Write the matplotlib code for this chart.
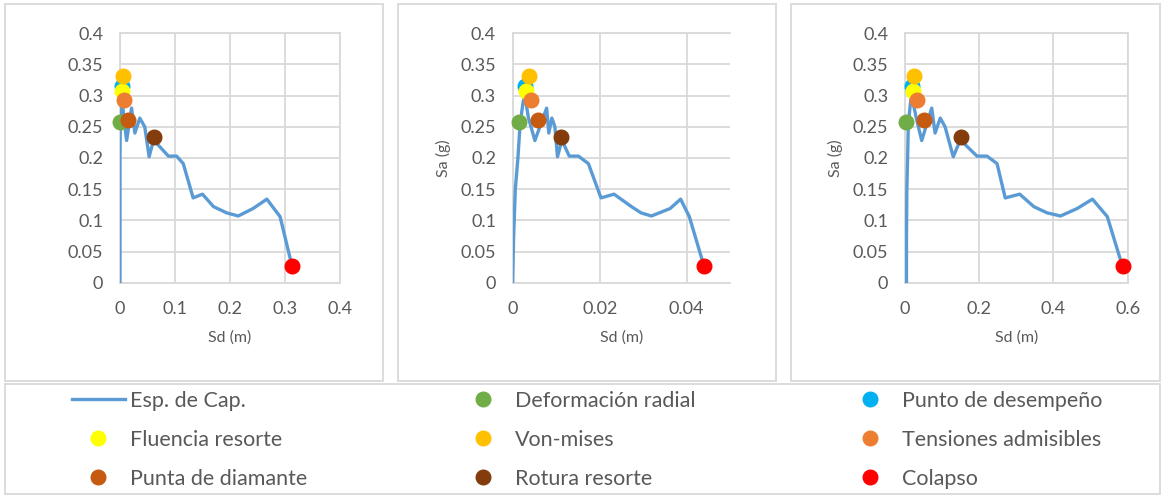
import numpy as np
import matplotlib
matplotlib.use('Agg')
import matplotlib.pyplot as plt
from matplotlib.patches import Rectangle

plt.rcParams['font.family'] = ['Lato', 'DejaVu Sans']

# capacity spectrum, Sa (g) shared by the three panels
sa = [0, 0.07, 0.15, 0.2, 0.255, 0.29, 0.30, 0.265, 0.228, 0.28, 0.24, 0.264, 0.25,
      0.202, 0.229, 0.203, 0.203, 0.191, 0.136, 0.142, 0.122, 0.112, 0.107, 0.119,
      0.134, 0.106, 0.026]
# Sd (m) for each panel
sd1 = [0, 0, 0, 0, 0.0005, 0.001, 0.003, 0.007, 0.012, 0.021, 0.027, 0.036, 0.045,
       0.053, 0.061, 0.088, 0.103, 0.115, 0.133, 0.15, 0.17, 0.194, 0.215, 0.242,
       0.267, 0.291, 0.313]
sd2 = [0, 0.0002, 0.0006, 0.0012, 0.0017, 0.0024, 0.0028, 0.0036, 0.0051, 0.0078,
       0.0083, 0.009, 0.0097, 0.0103, 0.0113, 0.013, 0.0151, 0.0174, 0.0203, 0.0233,
       0.0273, 0.0295, 0.0319, 0.0362, 0.0386, 0.0406, 0.0440]
sd3 = [0.004, 0.004, 0.005, 0.007, 0.009, 0.015, 0.018, 0.03, 0.045, 0.072, 0.081,
       0.095, 0.108, 0.13, 0.149, 0.194, 0.221, 0.248, 0.27, 0.309, 0.347, 0.383,
       0.419, 0.464, 0.505, 0.545, 0.586]

# performance points
pt_names = ['Deformación radial', 'Punto de desempeño', 'Fluencia resorte', 'Von-mises',
            'Tensiones admisibles', 'Punta de diamante', 'Rotura resorte', 'Colapso']
pt_colors = ['#70AD47', '#00B0F0', '#FFFF00', '#FFC000', '#ED7D31', '#C55A11',
             '#843C0C', '#FF0000']
pt_sa = [0.257, 0.316, 0.308, 0.332, 0.293, 0.261, 0.233, 0.026]
pt_sd1 = [0.0, 0.004, 0.003, 0.005, 0.007, 0.014, 0.062, 0.313]
pt_sd2 = [0.0015, 0.0029, 0.0031, 0.0038, 0.0042, 0.0059, 0.011, 0.044]
pt_sd3 = [0.002, 0.02, 0.0225, 0.025, 0.033, 0.051, 0.15, 0.588]

panels = [
    dict(sd=sd1, pts=pt_sd1, xmax=0.4, xticks=[0, 0.1, 0.2, 0.3, 0.4],
         xlabels=['0', '0.1', '0.2', '0.3', '0.4'], ylabel=False, rspine=True),
    dict(sd=sd2, pts=pt_sd2, xmax=0.05, xticks=[0, 0.02, 0.04],
         xlabels=['0', '0.02', '0.04'], ylabel=True, rspine=False),
    dict(sd=sd3, pts=pt_sd3, xmax=0.6, xticks=[0, 0.2, 0.4, 0.6],
         xlabels=['0', '0.2', '0.4', '0.6'], ylabel=True, rspine=True),
]
yticks = [0, 0.05, 0.1, 0.15, 0.2, 0.25, 0.3, 0.35, 0.4]
ylabels = ['0', '0.05', '0.1', '0.15', '0.2', '0.25', '0.3', '0.35', '0.4']

W, H = 1161, 495
fig = plt.figure(figsize=(W / 100, H / 100), dpi=100)
txt = '#595959'
grid = '#D9D9D9'

# outer boxes (pixel coords -> fig fraction)
boxes = [(5, 4, 383, 381), (398, 4, 776, 381), (791, 4, 1160, 381), (5, 384, 1160, 494)]
for x0, y0, x1, y1 in boxes:
    fig.add_artist(Rectangle((x0 / W, 1 - y1 / H), (x1 - x0) / W, (y1 - y0) / H,
                             transform=fig.transFigure, fill=False,
                             edgecolor=grid, lw=1.3))

lefts = [120, 512.7, 905]
widths = [220, 217.5, 222.7]
bottom = (H - 282.7) / H
height = (282.7 - 33.3) / H

handles = []
for i, p in enumerate(panels):
    ax = fig.add_axes([lefts[i] / W, bottom, widths[i] / W, height])
    l, = ax.plot(p['sd'], sa, color='#5B9BD5', lw=2.4, label='Esp. de Cap.', zorder=3)
    hs = [l]
    for k in range(len(pt_names)):
        h, = ax.plot(p['pts'][k], pt_sa[k], 'o', ms=10.5, color=pt_colors[k],
                     label=pt_names[k], zorder=4, clip_on=False)
        hs.append(h)
    if i == 0:
        handles = hs
    ax.set_xlim(0, p['xmax'])
    ax.set_ylim(0, 0.4)
    ax.set_xticks(p['xticks'])
    ax.set_xticklabels(p['xlabels'])
    ax.set_yticks(yticks)
    ax.set_yticklabels(ylabels)
    ax.grid(True, color=grid, lw=1.3)
    ax.set_axisbelow(True)
    for s in ax.spines.values():
        s.set_color(grid)
        s.set_linewidth(1.3)
    ax.spines['right'].set_visible(p['rspine'])
    ax.tick_params(length=0, labelsize=13, labelcolor=txt)
    ax.tick_params(axis='x', pad=13)
    ax.tick_params(axis='y', pad=12)
    ax.set_xlabel('Sd (m)', fontsize=11.5, color=txt, labelpad=10)
    if p['ylabel']:
        ax.set_ylabel('Sa (g)', fontsize=11.5, color=txt, labelpad=7)

# legend: three columns, filled row by row
labels = ['Esp. de Cap.'] + pt_names
cols = [[0, 3, 6], [1, 4, 7], [2, 5, 8]]
col_x = [72, 457, 844]
for c, idx in enumerate(cols):
    fig.legend([handles[j] for j in idx], [labels[j] for j in idx],
               loc='upper left', bbox_to_anchor=(col_x[c] / W, 1 - 391 / H),
               frameon=False, ncol=1, fontsize=15.5, labelcolor=txt,
               handlelength=2.44, handletextpad=0.25, labelspacing=0.88,
               borderpad=0, borderaxespad=0)

fig.savefig('out.png', dpi=100)
